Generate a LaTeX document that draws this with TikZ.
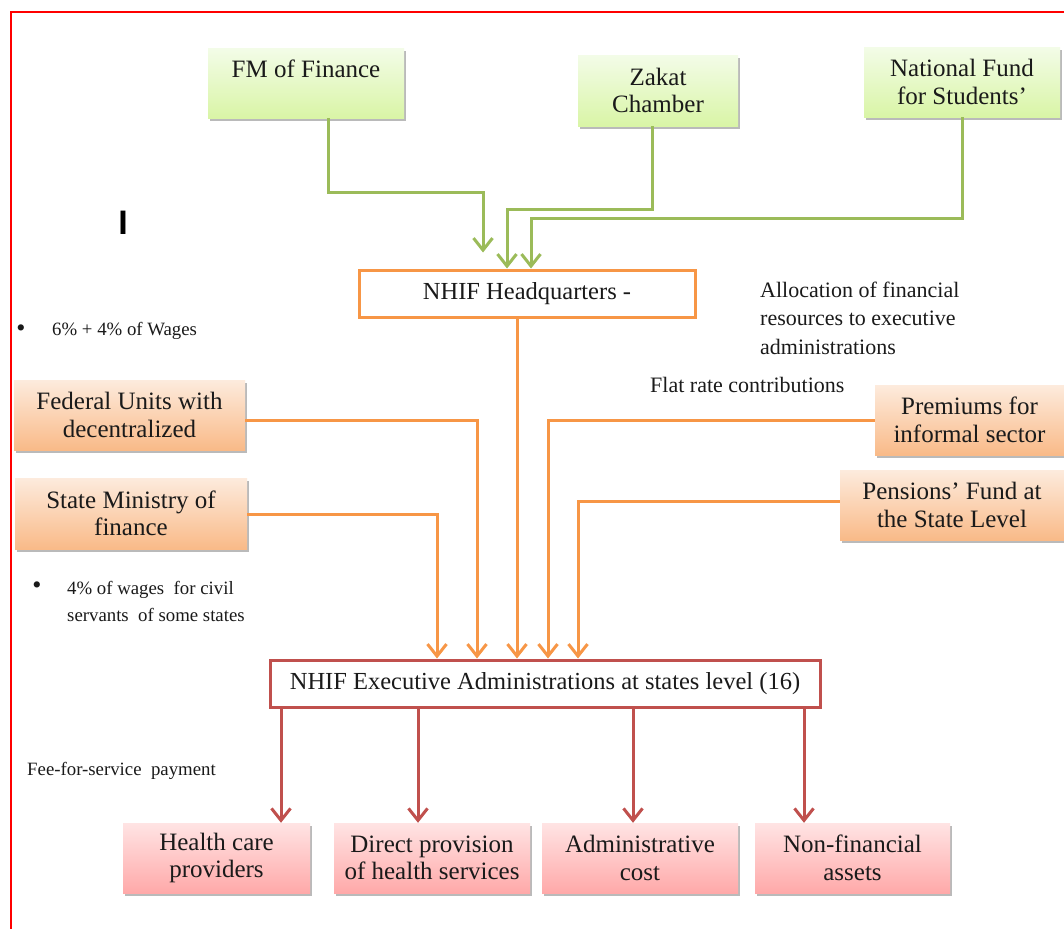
\documentclass[tikz,border=0pt]{standalone}
\usepackage{fontspec}
\setmainfont{Liberation Serif}
\newfontfamily\cursorfont{Liberation Sans}
\usetikzlibrary{arrows.meta,shadows}
\definecolor{gline}{HTML}{9BBB59}
\definecolor{oline}{HTML}{F79646}
\definecolor{rline}{HTML}{C0504D}
\definecolor{gtop}{HTML}{F3FCE8}
\definecolor{gbot}{HTML}{D9F5A6}
\definecolor{otop}{HTML}{FDEBDD}
\definecolor{obot}{HTML}{F9BA88}
\definecolor{ptop}{HTML}{FFE4E4}
\definecolor{pbot}{HTML}{FFA9A9}
\definecolor{txt}{HTML}{1A1A1A}
\definecolor{frame}{HTML}{FF0000}
\tikzset{
  boxbase/.style={draw=none, align=center, inner sep=0pt, text=txt,
    font=\fontsize{25}{27.5}\selectfont,
    drop shadow={shadow xshift=2pt, shadow yshift=-3pt, opacity=.45, fill=black!60}},
  gbox/.style={boxbase, top color=gtop, bottom color=gbot},
  obox/.style={boxbase, top color=otop, bottom color=obot},
  pbox/.style={boxbase, top color=ptop, bottom color=pbot},
  wbox/.style={fill=white, line width=3pt, align=center, inner sep=0pt, text=txt,
    font=\fontsize{24.5}{27}\selectfont},
  note/.style={text=txt, inner sep=0pt, align=left, anchor=west,
    font=\fontsize{22}{28.5}\selectfont},
  small/.style={text=txt, inner sep=0pt, align=left, anchor=west,
    font=\fontsize{18.8}{27}\selectfont},
  bul/.style={text=txt, inner sep=0pt, font=\fontsize{26}{26}\selectfont},
  conn/.style={line width=3pt, -{Straight Barb[length=12pt,width=19pt,line width=3pt]}},
  garrow/.style={conn, draw=gline},
  oarrow/.style={conn, draw=oline},
  rarrow/.style={conn, draw=rline}
}
\begin{document}
\begin{tikzpicture}[x=1pt,y=1pt]
\useasboundingbox (0,0) rectangle (1064,-929);
\fill[white] (0,0) rectangle (1064,-929);
\draw[frame, line width=2pt] (1064,-12) -- (11,-12) -- (11,-929);

% top sources
\node[gbox, minimum width=196, text height=29, text depth=41] (fm) at (306,-83) {FM of Finance};
\node[gbox, minimum width=160, minimum height=71] (zakat) at (658,-90.5) {Zakat\\Chamber};
\node[gbox, minimum width=196, minimum height=70] (nf) at (962,-82) {National Fund\\for Students’};

% headquarters
\node[wbox, draw=oline, minimum width=336, minimum height=47] (hq) at (527,-293.5) {NHIF Headquarters -};

% side sources
\node[obox, minimum width=231, minimum height=70] (fed) at (129.5,-415) {Federal Units with\\decentralized};
\node[obox, minimum width=232, minimum height=71] (smf) at (131,-513.5) {State Ministry of\\finance};
\node[obox, minimum width=189, minimum height=70] (prem) at (969.5,-420) {Premiums for\\informal sector};
\node[obox, minimum width=224, minimum height=70] (pens) at (952,-505) {Pensions’ Fund at\\the State Level};

% executive administrations
\node[wbox, draw=rline, minimum width=550, minimum height=47] (ex) at (545,-683.5) {NHIF Executive Administrations at states level (16)};

% destinations
\node[pbox, minimum width=187, minimum height=70] (hcp) at (216.5,-858) {Health care\\providers};
\node[pbox, minimum width=196, minimum height=70] (dps) at (432,-858) {Direct provision\\of health services};
\node[pbox, minimum width=196, minimum height=70] (adm) at (640,-858) {Administrative\\cost};
\node[pbox, minimum width=195, minimum height=70] (nfa) at (852.5,-858) {Non-financial\\assets};

% notes
\node[note] (alloc) at (760,-318) {Allocation of financial\\resources to executive\\administrations};
\node[note] (flat) at (650,-385) {Flat rate contributions};
\node[bul] (b1) at (21,-331) {\textbullet};
\node[small] (wages) at (52,-331) {6\% + 4\% of Wages};
\node[bul] (b2) at (37,-588) {\textbullet};
\node[small] (civil) at (67,-601) {4\% of wages\ \ for civil\\servants\ \ of some states};
\node[small] (fee) at (27,-771) {Fee-for-service\ \ payment};
\node[text=black, inner sep=0pt, font=\cursorfont\bfseries\fontsize{34}{34}\selectfont] (cur) at (123,-223) {I};

% green connectors
\draw[garrow] ([xshift=22pt]fm.south) |- ++(155,-74) -- ([xshift=-44pt,yshift=16pt]hq.north);
\draw[garrow] ([xshift=-6pt]zakat.south) |- ++(-145,-83) -- ([xshift=-20pt]hq.north);
\draw[garrow] (nf.south) |- ++(-431,-101) -- ([xshift=4pt]hq.north);

% orange connectors
\draw[oarrow] ([xshift=-10pt]hq.south) -- ([xshift=-28pt]ex.north);
\draw[oarrow] ([yshift=-5pt]fed.east) -| ([xshift=-68pt]ex.north);
\draw[oarrow] ([yshift=-1pt]smf.east) -| ([xshift=-108pt]ex.north);
\draw[oarrow] (prem.west) -| ([xshift=3pt]ex.north);
\draw[oarrow] ([yshift=4pt]pens.west) -| ([xshift=33pt]ex.north);

% red connectors
\draw[rarrow] ([xshift=-264pt]ex.south) -- ([xshift=64.5pt]hcp.north);
\draw[rarrow] ([xshift=-127pt]ex.south) -- ([xshift=-14pt]dps.north);
\draw[rarrow] ([xshift=88pt]ex.south) -- ([xshift=-7pt]adm.north);
\draw[rarrow] ([xshift=259pt]ex.south) -- ([xshift=-48.5pt]nfa.north);
\end{tikzpicture}
\end{document}
